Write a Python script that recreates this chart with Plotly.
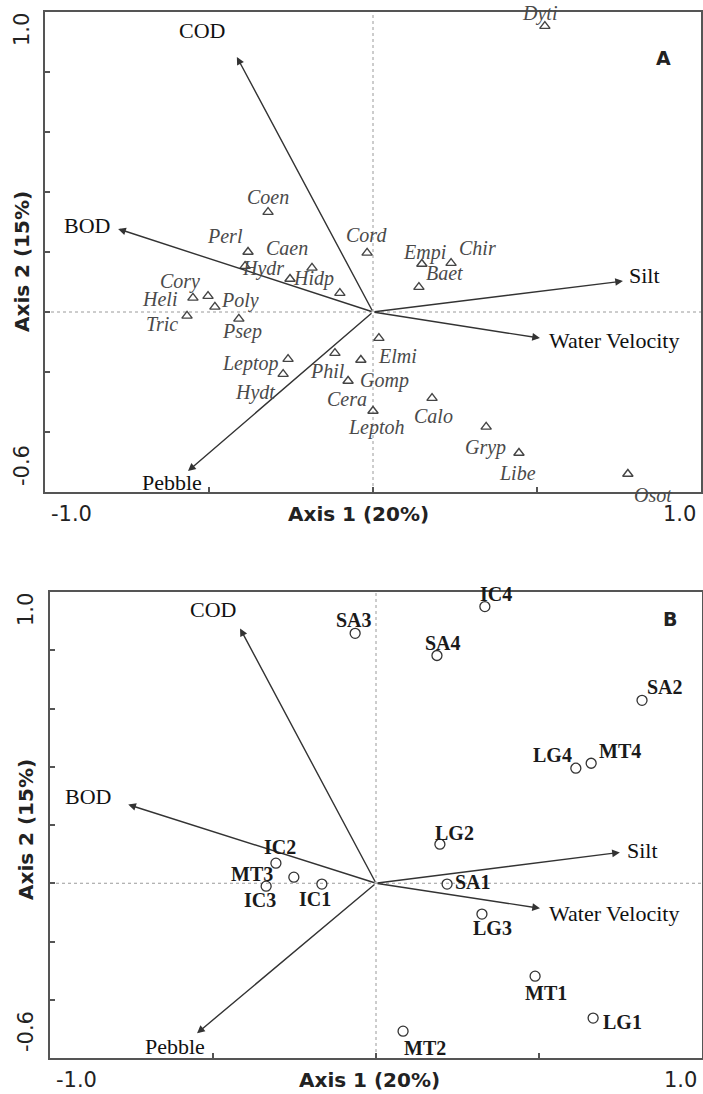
import plotly.graph_objects as go

W, H = 703, 1094

# ---------------- Panel A : species scores ----------------
species = ["Dyti", "Coen", "Perl", "Hydr", "Caen", "Hidp", "", "Cord", "Empi", "Chir",
           "Baet", "Cory", "Heli", "Poly", "Tric", "Psep", "Leptop", "Hydt", "Phil",
           "Gomp", "Cera", "Elmi", "Leptoh", "Calo", "Gryp", "Libe", "Osot"]
species_x = [0.524, -0.320, -0.381, -0.390, -0.186, -0.253, -0.101, -0.018, 0.149, 0.238,
             0.140, -0.503, -0.549, -0.482, -0.567, -0.409, -0.259, -0.274, -0.116,
             -0.037, -0.076, 0.018, 0.000, 0.180, 0.345, 0.445, 0.777]
species_y = [0.953, 0.333, 0.200, 0.153, 0.147, 0.110, 0.063, 0.197, 0.160, 0.163,
             0.083, 0.053, 0.047, 0.017, -0.013, -0.023, -0.157, -0.207, -0.137,
             -0.160, -0.230, -0.087, -0.330, -0.287, -0.383, -0.470, -0.540]

# ---------------- Panel B : site scores ----------------
sites = ["SA3", "IC4", "SA4", "SA2", "LG4", "MT4", "IC2", "MT3", "IC3", "IC1",
         "LG2", "SA1", "LG3", "MT1", "LG1", "MT2"]
sites_x = [-0.064, 0.334, 0.187, 0.816, 0.613, 0.660, -0.307, -0.252, -0.337, -0.166,
           0.196, 0.218, 0.325, 0.488, 0.666, 0.083]
sites_y = [0.858, 0.950, 0.782, 0.628, 0.395, 0.412, 0.069, 0.021, -0.010, -0.003,
           0.134, -0.003, -0.106, -0.319, -0.463, -0.508]

# ---------------- Environmental vectors ----------------
env = ["COD", "BOD", "Pebble", "Silt", "Water Velocity"]
env_x_A = [-0.415, -0.777, -0.564, 0.762, 0.509]
env_y_A = [0.850, 0.277, -0.530, 0.103, -0.087]
env_x_B = [-0.417, -0.760, -0.549, 0.748, 0.503]
env_y_B = [0.875, 0.270, -0.515, 0.106, -0.086]

x_ticks = [-0.5, 0.0, 0.5]
y_ticks = [-0.4, -0.2, 0.0, 0.2, 0.4, 0.6, 0.8]

# ---------------- label offsets (pixels: dx right, dy down) ----------------
sp_off = {"Dyti": (-5, -13), "Coen": (0, -15), "Perl": (-23, -16), "Hydr": (18, 2),
          "Caen": (-25, -20), "Hidp": (23, -1), "Cord": (-1, -18), "Empi": (3, -12),
          "Chir": (26, -15), "Baet": (26, -14), "Cory": (-28, -15), "Heli": (-33, 1),
          "Poly": (25, -6), "Tric": (-25, 8), "Psep": (3, 13), "Leptop": (-38, 4),
          "Hydt": (-28, 18), "Phil": (-7, 18), "Gomp": (24, 20), "Cera": (-1, 18),
          "Elmi": (19, 18), "Leptoh": (3, 16), "Calo": (1, 18), "Gryp": (-1, 21),
          "Libe": (-1, 20), "Osot": (25, 21)}
site_off = {"SA3": (-1, -13), "IC4": (11, -13), "SA4": (6, -12), "SA2": (23, -13),
            "LG4": (-23, -13), "MT4": (29, -12), "IC2": (4, -16), "MT3": (-42, -3),
            "IC3": (-6, 14), "IC1": (-7, 15), "LG2": (15, -11), "SA1": (26, -2),
            "LG3": (11, 14), "MT1": (11, 17), "LG1": (29, 4), "MT2": (22, 17)}
env_off_A = {"COD": (-35, -27, "center"), "BOD": (-31, -3, "center"),
             "Pebble": (-16, 11, "center"), "Silt": (4, -6, "left"),
             "Water Velocity": (7, 2, "left")}
env_off_B = {"COD": (-27, -19, "center"), "BOD": (-40, -8, "center"),
             "Pebble": (-22, 13, "center"), "Silt": (5, -2, "left"),
             "Water Velocity": (7, 5, "left")}

# panel frames in pixels (left, top, right, bottom)
frame_A = (45, 12, 701, 492)
frame_B = (50, 592, 702, 1058)

SERIF = "Liberation Serif, Times New Roman, serif"
SANS = "DejaVu Sans, Verdana, sans-serif"

fig = go.Figure()

fig.add_trace(go.Scatter(
    x=species_x, y=species_y, mode="markers", xaxis="x", yaxis="y",
    marker=dict(symbol="triangle-up-open", size=9, color="#444444",
                line=dict(width=1.4, color="#444444")),
    hoverinfo="text", text=species, showlegend=False))

fig.add_trace(go.Scatter(
    x=sites_x, y=sites_y, mode="markers", xaxis="x2", yaxis="y2",
    marker=dict(symbol="circle-open", size=10, color="#333333",
                line=dict(width=1.3, color="#333333")),
    hoverinfo="text", text=sites, showlegend=False))

annotations = []
shapes = []


def axis_cfg(frame):
    l, t, r, b = frame
    return l / W, r / W, 1 - b / H, 1 - t / H


for xa, ya, frame in (("x", "y", frame_A), ("x2", "y2", frame_B)):
    # dotted zero lines
    shapes.append(dict(type="line", xref=xa, yref=f"{ya} domain", x0=0, x1=0, y0=0, y1=1,
                       line=dict(color="#9a9a9a", width=1, dash="dot"), layer="below"))
    shapes.append(dict(type="line", xref=f"{xa} domain", yref=ya, x0=0, x1=1, y0=0, y1=0,
                       line=dict(color="#9a9a9a", width=1, dash="dot"), layer="below"))
    # tick labels
    tick_font = dict(family=SANS, size=21, color="#222222")
    annotations.append(dict(xref=xa, yref=f"{ya} domain", x=-1.0, y=0, text="-1.0",
                            showarrow=False, xanchor="left", yanchor="middle",
                            xshift=4, yshift=-22, font=tick_font))
    annotations.append(dict(xref=xa, yref=f"{ya} domain", x=1.0, y=0, text="1.0",
                            showarrow=False, xanchor="right", yanchor="middle",
                            xshift=-3, yshift=-22, font=tick_font))
    lab_x = (22 if xa == "x" else 26) / W
    annotations.append(dict(xref="paper", yref=ya, x=lab_x, y=1.0, text="1.0",
                            showarrow=False, textangle=-90, xanchor="center",
                            yanchor="middle", yshift=-18, font=tick_font))
    annotations.append(dict(xref="paper", yref=ya, x=lab_x, y=-0.6, text="-0.6",
                            showarrow=False, textangle=-90, xanchor="center",
                            yanchor="middle", yshift=26, font=tick_font))
    # axis titles
    title_font = dict(family=SANS, size=20, color="#222222")
    t_cx = 358 if xa == "x" else 369
    annotations.append(dict(xref="paper", yref=f"{ya} domain", x=t_cx / W, y=0,
                            text="<b>Axis 1 (20%)</b>", showarrow=False,
                            xanchor="center", yanchor="middle", yshift=-22, font=title_font))
    t_cy = 262 if xa == "x" else 830
    annotations.append(dict(xref="paper", yref="paper", x=lab_x, y=1 - t_cy / H,
                            text="<b>Axis 2 (15%)</b>", showarrow=False, textangle=-90,
                            xanchor="center", yanchor="middle", font=title_font))

# panel letters
annotations.append(dict(xref="paper", yref="paper", x=673 / W, y=1 - 45 / H, text="<b>A</b>",
                        showarrow=False, font=dict(family=SANS, size=19, color="#222222")))
annotations.append(dict(xref="paper", yref="paper", x=679 / W, y=1 - 619 / H, text="<b>B</b>",
                        showarrow=False, font=dict(family=SANS, size=19, color="#222222")))

# environmental arrows + labels
for xa, ya, ex, ey, offs in (("x", "y", env_x_A, env_y_A, env_off_A),
                             ("x2", "y2", env_x_B, env_y_B, env_off_B)):
    for name, vx, vy in zip(env, ex, ey):
        annotations.append(dict(xref=xa, yref=ya, x=vx, y=vy, ax=0, ay=0,
                                axref=xa, ayref=ya, text="", showarrow=True,
                                arrowhead=2, arrowsize=1.1, arrowwidth=1.4,
                                arrowcolor="#333333", standoff=0))
        dx, dy, anchor = offs[name]
        annotations.append(dict(xref=xa, yref=ya, x=vx, y=vy, text=name, showarrow=False,
                                xanchor=anchor, yanchor="middle", xshift=dx, yshift=-dy,
                                font=dict(family=SERIF, size=22, color="#111111")))

# species labels
for name, sx, sy in zip(species, species_x, species_y):
    if not name:
        continue
    dx, dy = sp_off[name]
    annotations.append(dict(xref="x", yref="y", x=sx, y=sy, text=f"<i>{name}</i>",
                            showarrow=False, xanchor="center", yanchor="middle",
                            xshift=dx, yshift=-dy,
                            font=dict(family=SERIF, size=20, color="#4a4a4a")))

# site labels
for name, sx, sy in zip(sites, sites_x, sites_y):
    dx, dy = site_off[name]
    annotations.append(dict(xref="x2", yref="y2", x=sx, y=sy, text=f"<b>{name}</b>",
                            showarrow=False, xanchor="center", yanchor="middle",
                            xshift=dx, yshift=-dy,
                            font=dict(family=SERIF, size=20, color="#1a1a1a")))


def xaxis(frame, anchor):
    x0, x1, _, _ = axis_cfg(frame)
    return dict(domain=[x0, x1], range=[-1.0, 1.0], anchor=anchor, showgrid=False,
                zeroline=False, showline=True, mirror=True, linecolor="#555555",
                linewidth=2, ticks="inside", ticklen=5, tickwidth=1.5, tickcolor="#555555",
                tickvals=x_ticks, showticklabels=False, fixedrange=True)


def yaxis(frame, anchor):
    _, _, y0, y1 = axis_cfg(frame)
    return dict(domain=[y0, y1], range=[-0.6, 1.0], anchor=anchor, showgrid=False,
                zeroline=False, showline=True, mirror=True, linecolor="#555555",
                linewidth=2, ticks="inside", ticklen=5, tickwidth=1.5, tickcolor="#555555",
                tickvals=y_ticks, showticklabels=False, fixedrange=True)


fig.update_layout(
    width=W, height=H, margin=dict(l=0, r=0, t=0, b=0),
    paper_bgcolor="white", plot_bgcolor="white", showlegend=False,
    xaxis=xaxis(frame_A, "y"), yaxis=yaxis(frame_A, "x"),
    xaxis2=xaxis(frame_B, "y2"), yaxis2=yaxis(frame_B, "x2"),
    annotations=annotations, shapes=shapes,
)

fig.write_html(
    "out.html",
    config={"displayModeBar": False},
    post_script="document.body.style.margin='0';document.body.style.padding='0';"
                "document.body.style.overflow='hidden';"
                "document.documentElement.style.overflow='hidden';",
)
